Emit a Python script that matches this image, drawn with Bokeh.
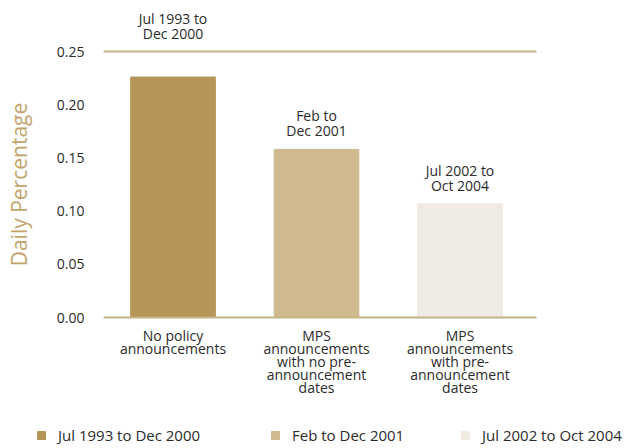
from bokeh.plotting import figure
from bokeh.models import (ColumnDataSource, Range1d, LabelSet, Label, Legend, LegendItem)
from bokeh.core.properties import value
from bokeh.embed import file_html
from bokeh.resources import INLINE

# ---- data ----
categories = ["No policy\nannouncements",
              "MPS\nannouncements\nwith no pre-\nannouncement\ndates",
              "MPS\nannouncements\nwith pre-\nannouncement\ndates"]
periods = ["Jul 1993 to Dec 2000", "Feb to Dec 2001", "Jul 2002 to Oct 2004"]
period_labels = ["Jul 1993 to\nDec 2000", "Feb to\nDec 2001", "Jul 2002 to\nOct 2004"]
values = [0.226, 0.158, 0.107]
colors = ["#b59658", "#cfb98f", "#f0ebe3"]
y_ticks = [0.0, 0.05, 0.10, 0.15, 0.20, 0.25]
y_label = "Daily Percentage"

# ---- layout / style ----
FONT = "Open Sans"
TEXT = "#2b2b2b"
TAN = "#c6b386"
W, H = 636, 446
PX_PER_X = 143.5          # pixels per category step
X_ORIGIN_PX = 172.5       # pixel of first category
PX_PER_Y = 1064.0         # pixels per unit of y
Y_ZERO_PX = 317.0         # pixel row of y = 0
PLOT_X0, PLOT_X1 = -0.484, len(categories) - 0.467   # horizontal extent of rules
LEGEND_X = [36, 270, 460]

x0 = -X_ORIGIN_PX / PX_PER_X
x1 = x0 + W / PX_PER_X
y1 = Y_ZERO_PX / PX_PER_Y
y0 = y1 - H / PX_PER_Y

xs = list(range(len(values)))
y_max = y_ticks[-1]

p = figure(width=W, height=H, output_backend="svg", toolbar_location=None,
           x_range=Range1d(x0, x1), y_range=Range1d(y0, y1),
           x_axis_type=None, y_axis_type=None, min_border=0)
p.outline_line_color = None
p.grid.visible = False

src = ColumnDataSource(dict(x=xs, value=values, color=colors, period=periods))
r = p.vbar(x="x", top="value", bottom=0, width=0.59, color="color", source=src)

# horizontal rules: baseline (axis) and top of scale
p.segment(x0=[PLOT_X0] * 2, x1=[PLOT_X1] * 2, y0=[y_ticks[0], y_max], y1=[y_ticks[0], y_max],
          line_color=TAN, line_width=2)

# y tick labels
tick_src = ColumnDataSource(dict(x=[PLOT_X0] * len(y_ticks), y=y_ticks,
                                 t=[f"{t:.2f}" for t in y_ticks]))
p.add_layout(LabelSet(x="x", y="y", text="t", source=tick_src, text_align="right",
                      text_baseline="middle", x_offset=-19, text_font=value(FONT),
                      text_font_size="14px", text_color=TEXT))

# y axis title
p.add_layout(Label(x=18, y=y_max / 2, x_units="screen", text=y_label, angle=90,
                   angle_units="deg", text_align="center", text_baseline="middle",
                   text_font=FONT, text_font_size="21px", text_color="#c2a46c"))

# category labels (one row per line so each line is centred)
cx, cy, ct, coff = [], [], [], []
for i, c in enumerate(categories):
    for j, line in enumerate(c.split("\n")):
        cx.append(xs[i]); cy.append(0.0); ct.append(line); coff.append(-23 - 13 * j)
p.add_layout(LabelSet(x="x", y="y", text="t", y_offset="off",
                      source=ColumnDataSource(dict(x=cx, y=cy, t=ct, off=coff)),
                      text_align="center", text_baseline="alphabetic", text_font=value(FONT),
                      text_font_size="14px", text_color=TEXT))

# period labels above bars; a label that would run into the top rule sits above it
px, py, pt, poff = [], [], [], []
for i, lab in enumerate(period_labels):
    lines = lab.split("\n")
    base = values[i] if values[i] + 0.045 < y_max else y_max
    for j, line in enumerate(lines):
        px.append(xs[i]); py.append(base); pt.append(line)
        poff.append(13 + 15 * (len(lines) - 1 - j))
p.add_layout(LabelSet(x="x", y="y", text="t", y_offset="off",
                      source=ColumnDataSource(dict(x=px, y=py, t=pt, off=poff)),
                      text_align="center", text_baseline="alphabetic", text_font=value(FONT),
                      text_font_size="14px", text_color=TEXT))

# legend entries along the bottom
for i in xs:
    leg = Legend(items=[LegendItem(label=periods[i], renderers=[r], index=i)],
                 location=(LEGEND_X[i], 1), orientation="horizontal",
                 glyph_width=10, glyph_height=10, label_standoff=12, padding=0, margin=0,
                 border_line_color=None, background_fill_alpha=0,
                 label_text_font=FONT, label_text_font_size="15px", label_text_color=TEXT)
    p.add_layout(leg)

open("out.html", "w").write(file_html(p, INLINE))
